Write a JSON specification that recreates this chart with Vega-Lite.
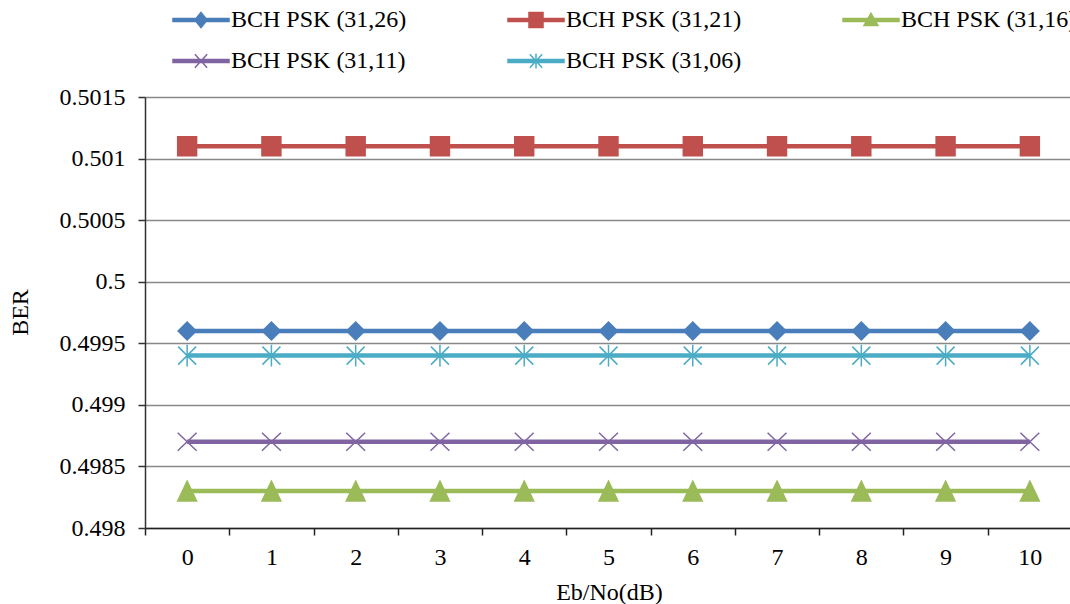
{
  "$schema": "https://vega.github.io/schema/vega-lite/v6.json",
  "width": 927,
  "height": 431,
  "autosize": "none",
  "padding": {"left": 145, "top": 97, "right": 0, "bottom": 76},
  "background": "white",
  "config": {
    "view": {"stroke": null},
    "font": "Liberation Serif"
  },
  "data": {
    "values": [
      {"x": 0, "series": "BCH PSK (31,26)", "ber": 0.4996},
      {"x": 1, "series": "BCH PSK (31,26)", "ber": 0.4996},
      {"x": 2, "series": "BCH PSK (31,26)", "ber": 0.4996},
      {"x": 3, "series": "BCH PSK (31,26)", "ber": 0.4996},
      {"x": 4, "series": "BCH PSK (31,26)", "ber": 0.4996},
      {"x": 5, "series": "BCH PSK (31,26)", "ber": 0.4996},
      {"x": 6, "series": "BCH PSK (31,26)", "ber": 0.4996},
      {"x": 7, "series": "BCH PSK (31,26)", "ber": 0.4996},
      {"x": 8, "series": "BCH PSK (31,26)", "ber": 0.4996},
      {"x": 9, "series": "BCH PSK (31,26)", "ber": 0.4996},
      {"x": 10, "series": "BCH PSK (31,26)", "ber": 0.4996},
      {"x": 0, "series": "BCH PSK (31,21)", "ber": 0.5011},
      {"x": 1, "series": "BCH PSK (31,21)", "ber": 0.5011},
      {"x": 2, "series": "BCH PSK (31,21)", "ber": 0.5011},
      {"x": 3, "series": "BCH PSK (31,21)", "ber": 0.5011},
      {"x": 4, "series": "BCH PSK (31,21)", "ber": 0.5011},
      {"x": 5, "series": "BCH PSK (31,21)", "ber": 0.5011},
      {"x": 6, "series": "BCH PSK (31,21)", "ber": 0.5011},
      {"x": 7, "series": "BCH PSK (31,21)", "ber": 0.5011},
      {"x": 8, "series": "BCH PSK (31,21)", "ber": 0.5011},
      {"x": 9, "series": "BCH PSK (31,21)", "ber": 0.5011},
      {"x": 10, "series": "BCH PSK (31,21)", "ber": 0.5011},
      {"x": 0, "series": "BCH PSK (31,16)", "ber": 0.4983},
      {"x": 1, "series": "BCH PSK (31,16)", "ber": 0.4983},
      {"x": 2, "series": "BCH PSK (31,16)", "ber": 0.4983},
      {"x": 3, "series": "BCH PSK (31,16)", "ber": 0.4983},
      {"x": 4, "series": "BCH PSK (31,16)", "ber": 0.4983},
      {"x": 5, "series": "BCH PSK (31,16)", "ber": 0.4983},
      {"x": 6, "series": "BCH PSK (31,16)", "ber": 0.4983},
      {"x": 7, "series": "BCH PSK (31,16)", "ber": 0.4983},
      {"x": 8, "series": "BCH PSK (31,16)", "ber": 0.4983},
      {"x": 9, "series": "BCH PSK (31,16)", "ber": 0.4983},
      {"x": 10, "series": "BCH PSK (31,16)", "ber": 0.4983},
      {"x": 0, "series": "BCH PSK (31,11)", "ber": 0.4987},
      {"x": 1, "series": "BCH PSK (31,11)", "ber": 0.4987},
      {"x": 2, "series": "BCH PSK (31,11)", "ber": 0.4987},
      {"x": 3, "series": "BCH PSK (31,11)", "ber": 0.4987},
      {"x": 4, "series": "BCH PSK (31,11)", "ber": 0.4987},
      {"x": 5, "series": "BCH PSK (31,11)", "ber": 0.4987},
      {"x": 6, "series": "BCH PSK (31,11)", "ber": 0.4987},
      {"x": 7, "series": "BCH PSK (31,11)", "ber": 0.4987},
      {"x": 8, "series": "BCH PSK (31,11)", "ber": 0.4987},
      {"x": 9, "series": "BCH PSK (31,11)", "ber": 0.4987},
      {"x": 10, "series": "BCH PSK (31,11)", "ber": 0.4987},
      {"x": 0, "series": "BCH PSK (31,06)", "ber": 0.4994},
      {"x": 1, "series": "BCH PSK (31,06)", "ber": 0.4994},
      {"x": 2, "series": "BCH PSK (31,06)", "ber": 0.4994},
      {"x": 3, "series": "BCH PSK (31,06)", "ber": 0.4994},
      {"x": 4, "series": "BCH PSK (31,06)", "ber": 0.4994},
      {"x": 5, "series": "BCH PSK (31,06)", "ber": 0.4994},
      {"x": 6, "series": "BCH PSK (31,06)", "ber": 0.4994},
      {"x": 7, "series": "BCH PSK (31,06)", "ber": 0.4994},
      {"x": 8, "series": "BCH PSK (31,06)", "ber": 0.4994},
      {"x": 9, "series": "BCH PSK (31,06)", "ber": 0.4994},
      {"x": 10, "series": "BCH PSK (31,06)", "ber": 0.4994}
    ]
  },
  "encoding": {
    "x": {
      "field": "x",
      "type": "ordinal",
      "scale": {"type": "band", "paddingInner": 0, "paddingOuter": 0},
      "axis": {
        "title": "Eb/No(dB)",
        "titleFont": "Liberation Serif",
        "titleFontSize": 24,
        "titleFontWeight": "normal",
        "titleColor": "black",
        "titleX": 464,
        "titleY": 64,
        "titleBaseline": "middle",
        "labelAngle": 0,
        "labelFont": "Liberation Serif",
        "labelFontSize": 24,
        "labelColor": "black",
        "labelPadding": 10,
        "tickBand": "extent",
        "tickSize": 7,
        "tickColor": "#222222",
        "tickWidth": 1.5,
        "domainColor": "#222222",
        "domainWidth": 1.5,
        "grid": false
      }
    },
    "y": {
      "field": "ber",
      "type": "quantitative",
      "scale": {"domain": [0.498, 0.5015], "zero": false, "nice": false},
      "axis": {
        "title": "BER",
        "titleFont": "Liberation Serif",
        "titleFontSize": 24,
        "titleFontWeight": "normal",
        "titleColor": "black",
        "titleX": -125,
        "titleY": 215,
        "titleBaseline": "middle",
        "titleAlign": "center",
        "values": [0.498, 0.4985, 0.499, 0.4995, 0.5, 0.5005, 0.501, 0.5015],
        "format": "~g",
        "labelFont": "Liberation Serif",
        "labelFontSize": 24,
        "labelColor": "black",
        "labelPadding": 13,
        "tickSize": 7,
        "tickColor": "#333333",
        "tickWidth": 1.5,
        "domainColor": "#333333",
        "domainWidth": 1.5,
        "grid": true,
        "gridColor": "#888888",
        "gridWidth": 1.5
      }
    }
  },
  "layer": [
    {
      "mark": {"type": "line", "strokeWidth": 4.5},
      "encoding": {
        "color": {
          "field": "series",
          "type": "nominal",
          "scale": {
            "domain": ["BCH PSK (31,26)", "BCH PSK (31,21)", "BCH PSK (31,16)", "BCH PSK (31,11)", "BCH PSK (31,06)"],
            "range": ["#4A7EBB", "#C0504D", "#9BBB59", "#8064A2", "#4BACC6"]
          },
          "legend": {
            "orient": "none",
            "legendX": 27,
            "legendY": -106,
            "columns": 3,
            "direction": "horizontal",
            "title": null,
            "labelFont": "Liberation Serif",
            "labelFontSize": 24,
            "labelColor": "black",
            "labelLimit": 400,
            "labelOffset": 1,
            "symbolSize": 3136,
            "columnPadding": 98,
            "rowPadding": 0,
            "encode": {
              "symbols": {
                "update": {
                  "shape": {
                    "signal": "datum.value === 'BCH PSK (31,26)' ? 'M-1,-0.055L1,-0.055L1,0.055L-1,0.055ZM0,-0.27L0.22,0L0,0.27L-0.22,0Z' : datum.value === 'BCH PSK (31,21)' ? 'M-1,-0.055L1,-0.055L1,0.055L-1,0.055ZM-0.25,-0.27L0.25,-0.27L0.25,0.27L-0.25,0.27Z' : datum.value === 'BCH PSK (31,16)' ? 'M-1,-0.055L1,-0.055L1,0.055L-1,0.055ZM0,-0.24L0.25,0.2L-0.25,0.2Z' : datum.value === 'BCH PSK (31,11)' ? 'M-1,-0.055L1,-0.055L1,0.055L-1,0.055ZM-0.22,-0.24L0.22,0.24M-0.22,0.24L0.22,-0.24' : 'M-1,-0.055L1,-0.055L1,0.055L-1,0.055ZM-0.22,-0.24L0.22,0.24M-0.22,0.24L0.22,-0.24M0,-0.27L0,0.27'"
                  },
                  "fill": {"scale": "color", "field": "value"},
                  "stroke": {"scale": "color", "field": "value"},
                  "strokeWidth": {"value": 1.5},
                  "opacity": {"value": 1}
                }
              }
            }
          }
        }
      }
    },
    {
      "mark": {"type": "point", "size": 324, "opacity": 1, "strokeWidth": 1.5},
      "encoding": {
        "shape": {
          "field": "series",
          "type": "nominal",
          "scale": {
            "domain": ["BCH PSK (31,06)", "BCH PSK (31,11)", "BCH PSK (31,16)", "BCH PSK (31,21)", "BCH PSK (31,26)"],
            "range": [
              "M-1,-1L1,1M-1,1L1,-1M0,-1.2L0,1.2",
              "M-1.05,-1L1.05,1M-1.05,1L1.05,-1",
              "M0,-1.1L1.05,1.1L-1.05,1.1Z",
              "M-1.05,-1.05L1.05,-1.05L1.05,1.05L-1.05,1.05Z",
              "M0,-1L1,0L0,1L-1,0Z"
            ]
          },
          "legend": null
        },
        "fill": {
          "field": "series",
          "type": "nominal",
          "scale": {
            "domain": ["BCH PSK (31,06)", "BCH PSK (31,11)", "BCH PSK (31,16)", "BCH PSK (31,21)", "BCH PSK (31,26)"],
            "range": ["#4BACC6", "#8064A2", "#9BBB59", "#C0504D", "#4A7EBB"]
          },
          "legend": null
        },
        "stroke": {
          "field": "series",
          "type": "nominal",
          "scale": {
            "domain": ["BCH PSK (31,06)", "BCH PSK (31,11)", "BCH PSK (31,16)", "BCH PSK (31,21)", "BCH PSK (31,26)"],
            "range": ["#4BACC6", "#8064A2", "#9BBB59", "#C0504D", "#4A7EBB"]
          },
          "legend": null
        }
      }
    }
  ]
}
